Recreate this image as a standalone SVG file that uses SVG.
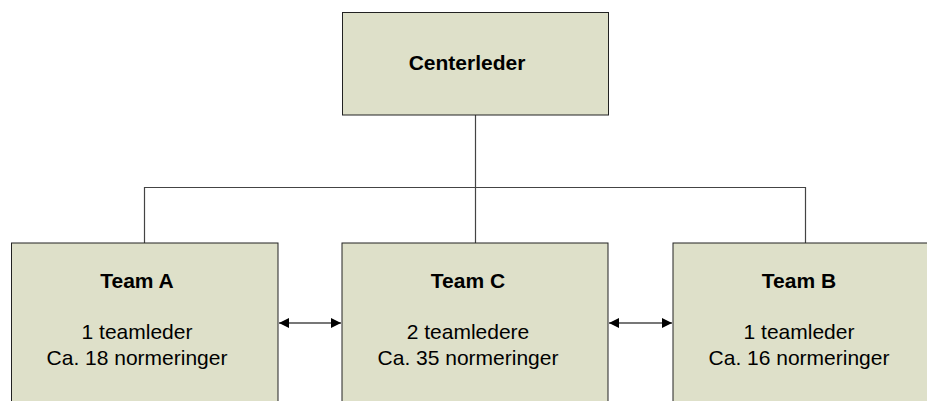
<svg xmlns="http://www.w3.org/2000/svg" width="927" height="401" viewBox="0 0 927 401">
  <defs>
    <marker id="arrow" viewBox="0 0 10 10" refX="10" refY="5" markerWidth="10" markerHeight="10" markerUnits="userSpaceOnUse" orient="auto-start-reverse">
      <path d="M0,0 L10,5 L0,10 Z" fill="#000"/>
    </marker>
  </defs>
  <style>
    .box { fill: #dee0c9; stroke: #222; stroke-width: 1; }
    .title { font-family: "Liberation Sans", Arial, sans-serif; font-size: 21px; font-weight: bold; fill: #000; text-anchor: middle; }
    .body { font-family: "Liberation Sans", Arial, sans-serif; font-size: 21px; fill: #000; text-anchor: middle; }
    .tree { fill: none; stroke: #444; stroke-width: 1.2; }
    .link { fill: none; stroke: #777; stroke-width: 2; }
  </style>
  <rect width="927" height="401" fill="#fff"/>

  <g id="connectors">
    <path class="tree" d="M475.5,115 V243"/>
    <path class="tree" d="M144.5,243 V187.5 H805.5 V243"/>
    <path class="link" d="M279,323 H341" marker-start="url(#arrow)" marker-end="url(#arrow)"/>
    <path class="link" d="M609,323 H672" marker-start="url(#arrow)" marker-end="url(#arrow)"/>
  </g>

  <g id="centerleder">
    <rect class="box" x="342.5" y="12.5" width="266" height="102.5"/>
    <text class="title" x="467" y="70">Centerleder</text>
  </g>

  <g id="team-a">
    <rect class="box" x="11.5" y="243" width="266.5" height="170"/>
    <text class="title" x="137" y="288">Team A</text>
    <text class="body" x="137" y="339">1 teamleder</text>
    <text class="body" x="137" y="365">Ca. 18 normeringer</text>
  </g>

  <g id="team-c">
    <rect class="box" x="342" y="243" width="266" height="170"/>
    <text class="title" x="468" y="288">Team C</text>
    <text class="body" x="468" y="339">2 teamledere</text>
    <text class="body" x="468" y="365">Ca. 35 normeringer</text>
  </g>

  <g id="team-b">
    <rect class="box" x="673" y="243" width="267" height="170"/>
    <text class="title" x="799" y="288">Team B</text>
    <text class="body" x="799" y="339">1 teamleder</text>
    <text class="body" x="799" y="365">Ca. 16 normeringer</text>
  </g>
</svg>
